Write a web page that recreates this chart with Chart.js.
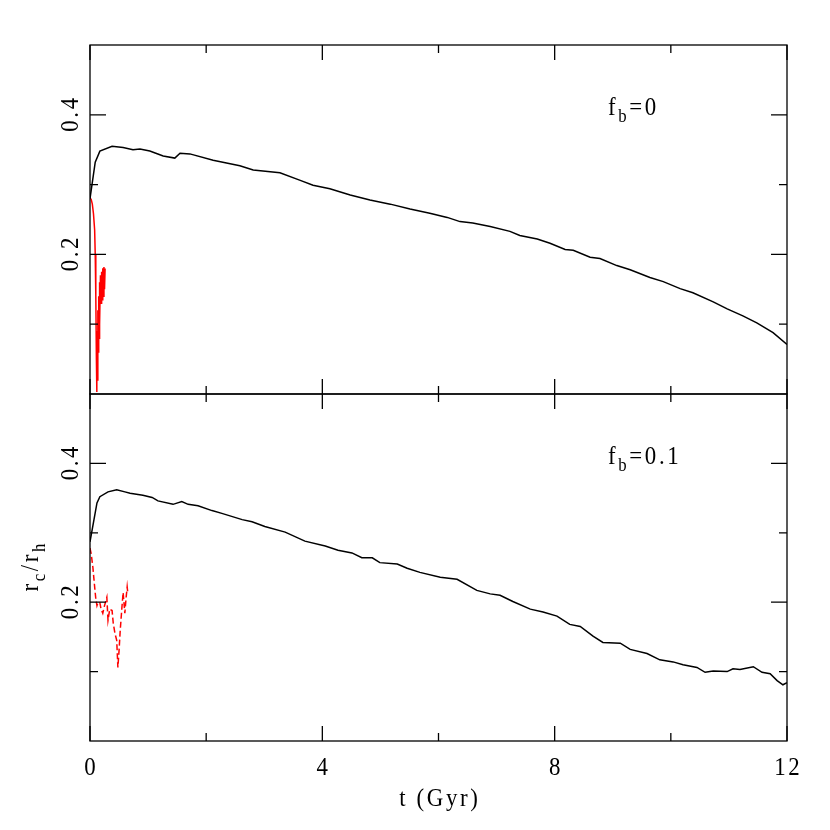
<!DOCTYPE html>
<html>
<head>
<meta charset="utf-8">
<script src="https://cdn.jsdelivr.net/npm/chart.js@4.4.0/dist/chart.umd.min.js"></script>
<style>
body { margin: 0; background: #fff; }
#wrap { position: relative; width: 830px; height: 830px; }
canvas { position: absolute; left: 0; }
</style>
</head>
<body>
<div id="wrap">
<canvas id="topPanel" width="830" height="400" style="top:0"></canvas>
<canvas id="botPanel" width="830" height="442" style="top:388px"></canvas>
</div>
<script>
// tick marks / labels
var xMajor = [0, 4, 8, 12];
var xMinor = [2, 6, 10];
var yMajor = [0.2, 0.4];
var yMinor = [0.1, 0.3];

// f_b = 0 panel
var topBlackT = [0,0.09,0.17,0.38,0.57,0.74,0.86,1.03,1.26,1.46,1.55,1.72,2.12,2.58,2.81,3.27,3.62,3.84,4.13,4.48,4.82,5.17,5.51,5.85,6.15,6.37,6.59,6.89,7.23,7.40,7.70,7.92,8.18,8.32,8.61,8.78,9.07,9.30,9.64,9.87,10.16,10.38,10.73,10.97,11.24,11.48,11.76,12.0];
var topBlackR = [0.28,0.332,0.348,0.355,0.353,0.350,0.351,0.348,0.341,0.338,0.345,0.344,0.335,0.327,0.321,0.317,0.306,0.299,0.294,0.285,0.278,0.272,0.265,0.259,0.253,0.247,0.245,0.240,0.233,0.227,0.222,0.216,0.207,0.206,0.196,0.194,0.184,0.178,0.167,0.161,0.151,0.145,0.132,0.122,0.112,0.102,0.088,0.071];
var topRedT = [0,0.02,0.04,0.06,0.08,0.09,0.10,0.11,0.115,0.12,0.13,0.135,0.14,0.15,0.155,0.16,0.17,0.18,0.19,0.20,0.21,0.22,0.23,0.24,0.25,0.26];
var topRedR = [0.281,0.279,0.272,0.258,0.235,0.20,0.14,0.05,0.003,0.09,0.02,0.12,0.06,0.14,0.08,0.16,0.10,0.17,0.13,0.175,0.135,0.18,0.14,0.182,0.15,0.18];

// f_b = 0.1 panel
var botBlackT = [0,0.12,0.17,0.31,0.46,0.60,0.69,0.91,1.07,1.17,1.43,1.58,1.69,1.86,2.10,2.27,2.62,2.79,3.01,3.36,3.70,4.05,4.27,4.51,4.68,4.86,4.99,5.29,5.46,5.68,6.03,6.32,6.66,6.89,7.06,7.28,7.58,7.80,8.04,8.26,8.44,8.66,8.83,9.13,9.30,9.59,9.81,10.04,10.21,10.45,10.59,10.73,10.97,11.07,11.19,11.42,11.57,11.71,11.83,11.93,12.0];
var botBlackR = [0.287,0.343,0.352,0.359,0.362,0.359,0.357,0.354,0.351,0.346,0.341,0.345,0.341,0.339,0.332,0.328,0.319,0.316,0.309,0.301,0.288,0.281,0.275,0.271,0.264,0.264,0.257,0.255,0.249,0.243,0.236,0.233,0.217,0.212,0.210,0.201,0.190,0.186,0.180,0.168,0.165,0.151,0.142,0.141,0.132,0.126,0.117,0.114,0.110,0.106,0.099,0.101,0.100,0.104,0.103,0.107,0.099,0.097,0.087,0.081,0.084];
var botRedT = [0,0.02,0.05,0.08,0.10,0.12,0.14,0.17,0.19,0.22,0.25,0.29,0.31,0.34,0.38,0.40,0.43,0.46,0.48,0.50,0.52,0.55,0.57,0.60,0.62,0.64,0.65];
var botRedR = [0.278,0.27,0.25,0.222,0.205,0.195,0.20,0.199,0.19,0.184,0.195,0.207,0.174,0.19,0.188,0.170,0.155,0.145,0.106,0.13,0.159,0.193,0.214,0.184,0.205,0.222,0.214];

var FONT = '"Liberation Serif", "DejaVu Serif", serif';
var SQUEEZE = 0.88;
var BIG = 26, SMALL = 19;

function pts(t, r) {
    return t.map(function (v, i) { return { x: v, y: r[i] }; });
}

// draw text made of pieces, some of them subscripts
function rich(ctx, parts, x, y, align, rotate) {
    ctx.save();
    ctx.translate(x, y);
    if (rotate) ctx.rotate(-Math.PI / 2);
    ctx.scale(SQUEEZE, 1);
    ctx.textBaseline = 'alphabetic';
    ctx.textAlign = 'left';
    ctx.letterSpacing = '3px';
    var w = 0;
    parts.forEach(function (p) {
        ctx.font = (p.sub ? SMALL : BIG) + 'px ' + FONT;
        w += ctx.measureText(p.t).width;
    });
    w -= 3;
    var cx = align === 'center' ? -w / 2 : 0;
    parts.forEach(function (p) {
        ctx.font = (p.sub ? SMALL : BIG) + 'px ' + FONT;
        ctx.fillText(p.t, cx, p.sub ? 7 : 0);
        cx += ctx.measureText(p.t).width;
    });
    ctx.restore();
}

var framePlugin = {
    id: 'frame',
    afterDatasetsDraw: function (chart, args, opts) {
        var ctx = chart.ctx, a = chart.chartArea;
        var xs = chart.scales.x, ys = chart.scales.y;
        ctx.save();
        ctx.strokeStyle = '#000';
        ctx.fillStyle = '#000';
        ctx.lineWidth = 1.3;
        ctx.strokeRect(a.left, a.top, a.right - a.left, a.bottom - a.top);
        ctx.beginPath();
        xMajor.concat(xMinor).forEach(function (v) {
            var len = xMajor.indexOf(v) >= 0 ? 15 : 8;
            var px = xs.getPixelForValue(v);
            ctx.moveTo(px, a.bottom); ctx.lineTo(px, a.bottom - len);
            ctx.moveTo(px, a.top); ctx.lineTo(px, a.top + len);
        });
        yMajor.concat(yMinor).forEach(function (v) {
            var len = yMajor.indexOf(v) >= 0 ? 16 : 8;
            var py = ys.getPixelForValue(v);
            ctx.moveTo(a.left, py); ctx.lineTo(a.left + len, py);
            ctx.moveTo(a.right, py); ctx.lineTo(a.right - len, py);
        });
        ctx.stroke();

        yMajor.forEach(function (v) {
            rich(ctx, [{ t: v.toFixed(1) }], a.left - 12, ys.getPixelForValue(v), 'center', true);
        });

        rich(ctx, opts.label, 608, a.top + 70, 'left', false);

        if (opts.bottom) {
            xMajor.forEach(function (v) {
                rich(ctx, [{ t: String(v) }], xs.getPixelForValue(v), a.bottom + 34, 'center', false);
            });
            rich(ctx, [{ t: 't (Gyr)' }], (a.left + a.right) / 2, a.bottom + 65, 'center', false);
            rich(ctx, [{ t: 'r' }, { t: 'c', sub: true }, { t: '/r' }, { t: 'h', sub: true }],
                 38, (a.top + a.bottom) / 2, 'center', true);
        }
        ctx.restore();
    }
};

function makePanel(canvasId, blackT, blackR, redT, redR, dashed, label, bottom, pad) {
    var ctx = document.getElementById(canvasId).getContext('2d');
    return new Chart(ctx, {
        type: 'line',
        data: {
            datasets: [{
                data: pts(blackT, blackR),
                borderColor: '#000',
                borderWidth: 1.5,
                pointRadius: 0,
                tension: 0
            }, {
                data: pts(redT, redR),
                borderColor: '#ff0000',
                borderWidth: 1.5,
                borderDash: dashed ? [6, 3] : [],
                pointRadius: 0,
                tension: 0
            }]
        },
        options: {
            responsive: false,
            animation: false,
            events: [],
            layout: { padding: pad },
            plugins: {
                legend: { display: false },
                tooltip: { enabled: false },
                frame: { label: label, bottom: bottom }
            },
            scales: {
                x: { type: 'linear', min: 0, max: 12, display: false },
                y: { type: 'linear', min: 0, max: 0.5, display: false }
            }
        },
        plugins: [framePlugin]
    });
}

makePanel('topPanel', topBlackT, topBlackR, topRedT, topRedR, false,
    [{ t: 'f' }, { t: 'b', sub: true }, { t: '=0' }], false,
    { left: 90, right: 43, top: 45, bottom: 6 });
makePanel('botPanel', botBlackT, botBlackR, botRedT, botRedR, true,
    [{ t: 'f' }, { t: 'b', sub: true }, { t: '=0.1' }], true,
    { left: 90, right: 43, top: 6, bottom: 89 });
</script>
</body>
</html>
